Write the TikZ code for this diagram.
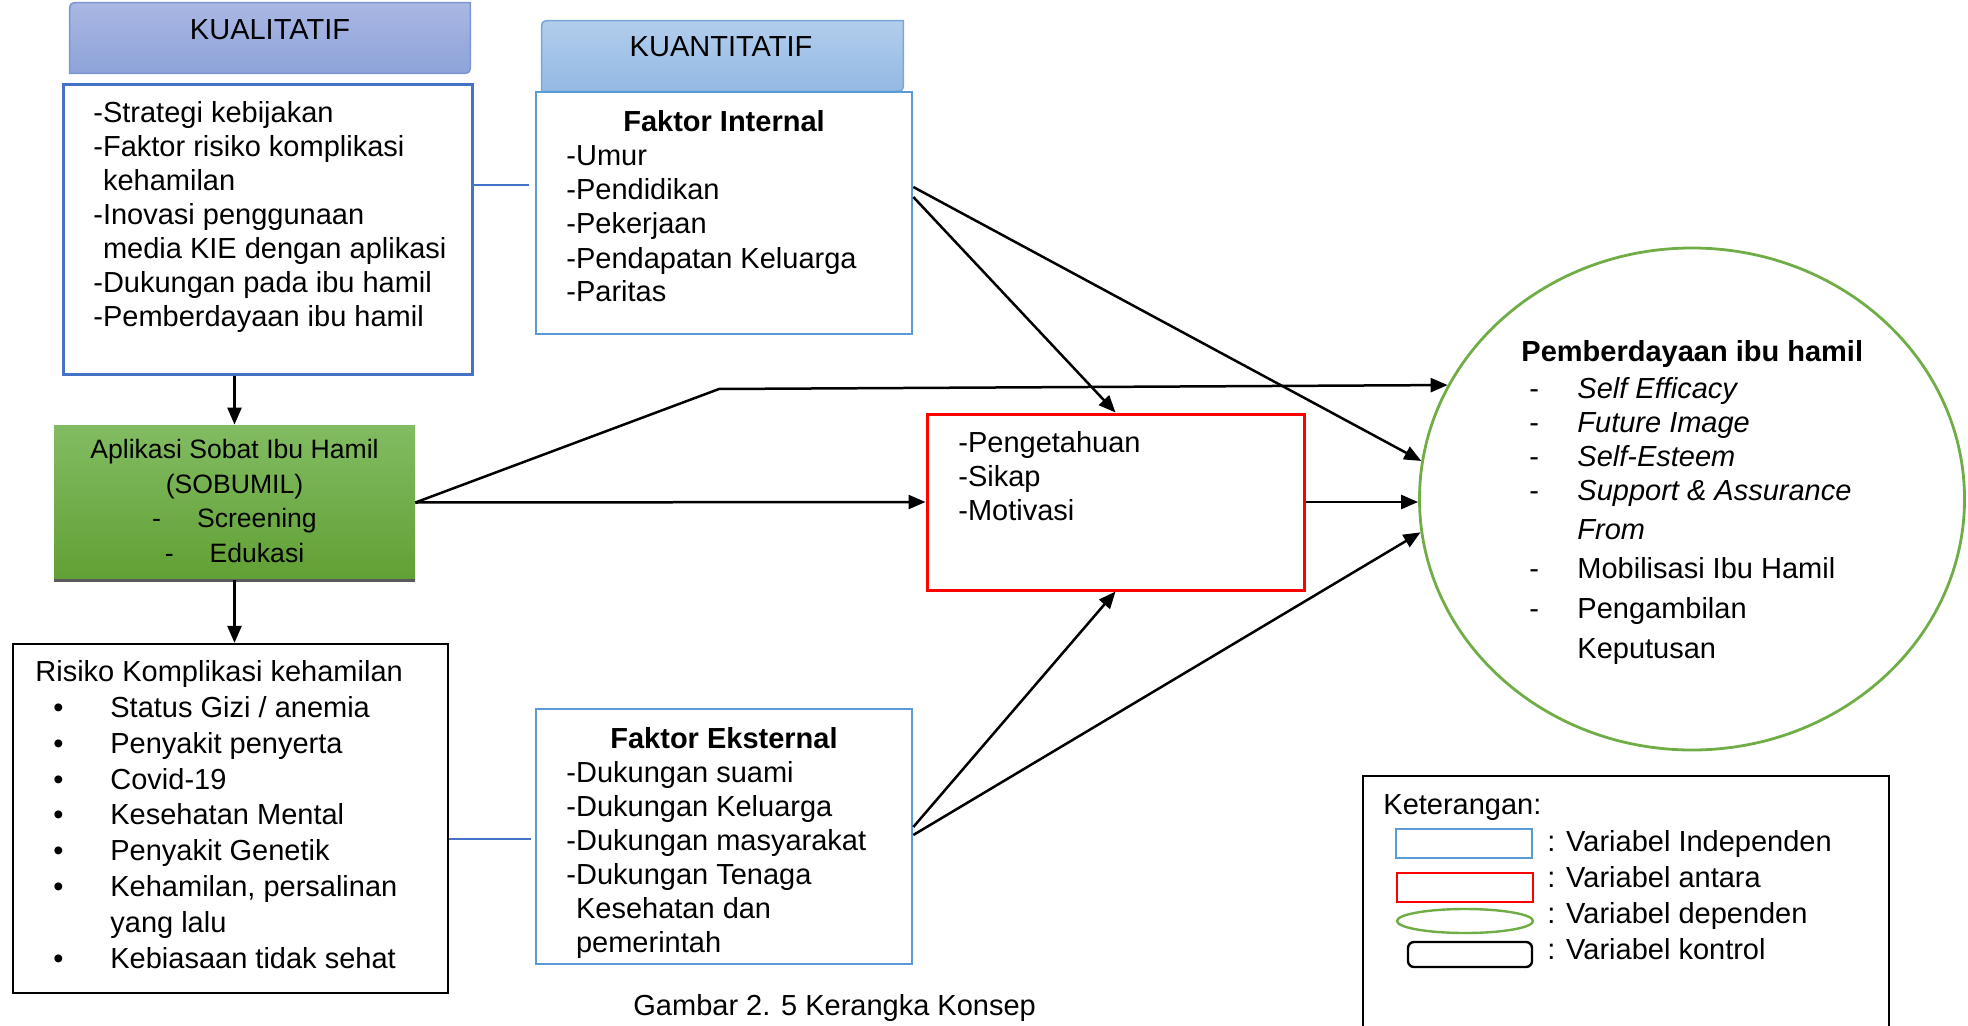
\documentclass[tikz,border=0pt]{standalone}
\usepackage{fontspec}
\setmainfont{Liberation Sans}
\usetikzlibrary{arrows.meta,shapes.geometric}

\begin{document}
\begin{tikzpicture}[x=0.5pt,y=-0.5pt,
	box/.style={draw,line width=1.5pt,fill=white,inner sep=0pt},
	txt/.style={inner sep=0pt,align=left,font=\fontsize{14.5}{17}\selectfont},
	head/.style={inner sep=0pt,align=left,font=\fontsize{14.5}{17}\selectfont\bfseries},
	link/.style={line width=1.25pt,-{Triangle[length=8.5pt,width=7pt]}},
	tie/.style={line width=0.6pt,draw=cblue}]
	\definecolor{ckualtop}{RGB}{170,183,227}
	\definecolor{ckualbot}{RGB}{141,163,218}
	\definecolor{ckualedge}{RGB}{125,150,210}
	\definecolor{ckuantop}{RGB}{178,205,236}
	\definecolor{ckuanbot}{RGB}{147,185,228}
	\definecolor{ckuanedge}{RGB}{120,168,218}
	\definecolor{cblue}{RGB}{68,114,196}
	\definecolor{clight}{RGB}{91,155,213}
	\definecolor{cgreentop}{RGB}{130,188,98}
	\definecolor{cgreenbot}{RGB}{97,160,52}
	\definecolor{cshadow}{RGB}{90,90,90}
	\definecolor{cgreen}{RGB}{112,173,71}
	\clip (0,0) rectangle (1968,1026);
	%
	% tabs
	\node[inner sep=0pt,minimum width=200pt,minimum height=35pt] (kualtab) at (270,38) {};
	\draw[line width=0.8pt,draw=ckualedge,top color=ckualtop,bottom color=ckualbot] (kualtab.south west) -- ([yshift=-6pt]kualtab.north west) .. controls (kualtab.north west) .. ([xshift=6pt]kualtab.north west) -- (kualtab.north east) -- ([yshift=6pt]kualtab.south east) .. controls (kualtab.south east) .. ([xshift=-6pt]kualtab.south east) -- cycle;
	\node[txt,anchor=base] (kualtabtxt) at (270,40) {KUALITATIF};
	\node[inner sep=0pt,minimum width=180.5pt,minimum height=35pt] (kuantab) at (722.5,56) {};
	\draw[line width=0.8pt,draw=ckuanedge,top color=ckuantop,bottom color=ckuanbot] (kuantab.south west) -- ([yshift=-6pt]kuantab.north west) .. controls (kuantab.north west) .. ([xshift=6pt]kuantab.north west) -- (kuantab.north east) -- ([yshift=6pt]kuantab.south east) .. controls (kuantab.south east) .. ([xshift=-6pt]kuantab.south east) -- cycle;
	\node[txt,anchor=base] (kuantabtxt) at (721,57) {KUANTITATIF};
	%
	% boxes
	\node[box,draw=cblue,minimum width=204.5pt,minimum height=144.5pt] (kual) at (267.5,229.5) {};
	\node[box,draw=clight,line width=1.3pt,minimum width=188pt,minimum height=121pt] (internal) at (724,213) {};
	\node[inner sep=0pt,top color=cgreentop,bottom color=cgreenbot,minimum width=180.5pt,minimum height=77.5pt] (sobumil) at (234.5,502.5) {};
	\draw[line width=1.5pt,cshadow] (sobumil.south west) -- (sobumil.south east);
	\node[box,draw=black,line width=1.1pt,minimum width=217.5pt,minimum height=174.5pt] (risiko) at (230.5,818.5) {};
	\node[box,draw=clight,line width=1.3pt,minimum width=188pt,minimum height=127.5pt] (eksternal) at (724,836.5) {};
	\node[box,draw=red,minimum width=188.5pt,minimum height=88pt] (antara) at (1115.5,502) {};
	\node[ellipse,draw=cgreen,line width=1.4pt,inner sep=0pt,minimum width=272.5pt,minimum height=251pt] (dependen) at (1692,499) {};
	\node[draw,line width=0.7pt,inner sep=0pt,minimum width=263pt,minimum height=132pt] (legenda) at (1626,908) {};
	%
	% texts (base = last line)
	\node[txt,anchor=base west] (kualtxt) at (93,327) {-Strategi kebijakan\\-Faktor risiko komplikasi\\\phantom{-}kehamilan\\-Inovasi penggunaan\\\phantom{-}media KIE dengan aplikasi\\-Dukungan pada ibu hamil\\-Pemberdayaan ibu hamil};
	\node[head,anchor=base] (internalhead) at (724,132) {Faktor Internal};
	\node[txt,anchor=base west] (internaltxt) at (566,302) {-Umur\\-Pendidikan\\-Pekerjaan\\-Pendapatan Keluarga\\-Paritas};
	\node[txt,align=center,anchor=base,font=\fontsize{13.3}{17.2}\selectfont] (sobumiltxt) at (234.5,562) {Aplikasi Sobat Ibu Hamil\\(SOBUMIL)\\-\hspace{18pt}Screening\\-\hspace{18pt}Edukasi};
	\node[txt,anchor=base west,font=\fontsize{14.5}{17.9}\selectfont] (risikotxt) at (35,968) {Risiko Komplikasi kehamilan\\\hspace*{9pt}\makebox[28.5pt][l]{\textbullet}Status Gizi / anemia\\\hspace*{9pt}\makebox[28.5pt][l]{\textbullet}Penyakit penyerta\\\hspace*{9pt}\makebox[28.5pt][l]{\textbullet}Covid-19\\\hspace*{9pt}\makebox[28.5pt][l]{\textbullet}Kesehatan Mental\\\hspace*{9pt}\makebox[28.5pt][l]{\textbullet}Penyakit Genetik\\\hspace*{9pt}\makebox[28.5pt][l]{\textbullet}Kehamilan, persalinan\\\hspace*{37.5pt}yang lalu\\\hspace*{9pt}\makebox[28.5pt][l]{\textbullet}Kebiasaan tidak sehat};
	\node[head,anchor=base] (eksternalhead) at (724,748) {Faktor Eksternal};
	\node[txt,anchor=base west] (eksternaltxt) at (566,952) {-Dukungan suami\\-Dukungan Keluarga\\-Dukungan masyarakat\\-Dukungan Tenaga\\\phantom{-}Kesehatan dan\\\phantom{-}pemerintah};
	\node[txt,anchor=base west] (antaratxt) at (958,520) {-Pengetahuan\\-Sikap\\-Motivasi};
	\node[head,anchor=base west] (dependenhead) at (1521,361) {Pemberdayaan ibu hamil};
	\node[txt,anchor=base west] (dependentxt) at (1529,658) {\makebox[24pt][l]{-}\textit{Self Efficacy}\\\makebox[24pt][l]{-}\textit{Future Image}\\\makebox[24pt][l]{-}\textit{Self-Esteem}\\\makebox[24pt][l]{-}\textit{Support \& Assurance}\\[2.5pt]\hspace*{24pt}\textit{From}\\[2.5pt]\makebox[24pt][l]{-}Mobilisasi Ibu Hamil\\[3pt]\makebox[24pt][l]{-}Pengambilan\\[3pt]\hspace*{24pt}Keputusan};
	%
	% legend
	\node[txt,anchor=base west] (ketlabel) at (1383,814) {Keterangan:};
	\node[draw=clight,line width=1.2pt,inner sep=0pt,minimum width=68pt,minimum height=14.5pt] (keyind) at (1464,843.5) {};
	\node[draw=red,line width=1.4pt,inner sep=0pt,minimum width=68pt,minimum height=14.5pt] (keyant) at (1465,887.5) {};
	\node[ellipse,draw=cgreen,line width=1.2pt,inner sep=0pt,minimum width=68pt,minimum height=12pt] (keydep) at (1465,921) {};
	\node[draw,rounded corners=3pt,line width=1.2pt,inner sep=0pt,minimum width=62pt,minimum height=12.5pt] (keykon) at (1470,954.5) {};
	\node[txt,anchor=base west] (kettxt) at (1547,959) {: Variabel Independen\\[1pt]: Variabel antara\\[1pt]: Variabel dependen\\[1pt]: Variabel kontrol};
	\node[txt,anchor=base west] (caption) at (633,1015) {Gambar 2. 5 Kerangka Konsep};
	%
	% connectors
	\coordinate (bend) at (719,389);
	\coordinate (tiekual) at ([yshift=22.25pt]kual.east);
	\coordinate (tierisiko) at ([yshift=-10.25pt]risiko.east);
	\draw[link] (sobumil.east) -- (bend) -- (dependen.155.8);
	\draw[link] (sobumil.east) -- (antara.west);
	\draw[link] ([yshift=13pt]internal.east) -- (dependen.172.6);
	\draw[link] ([yshift=8pt]internal.east) -- (antara.north);
	\draw[link] (antara.east) -- (antara.east -| dependen.west);
	\draw[link] ([yshift=4.75pt]eksternal.east) -- (antara.south);
	\draw[link] ([yshift=0.75pt]eksternal.east) -- (dependen.187.2);
	\draw[link] (kual.south -| sobumil.north) -- (sobumil.north);
	\draw[link] (sobumil.south) -- (sobumil.south |- risiko.north);
	\draw[tie,shorten >=3pt] (tiekual) -- (tiekual -| internal.west);
	\draw[tie,shorten >=2pt] (tierisiko) -- (tierisiko -| eksternal.west);
	%
\end{tikzpicture}
\end{document}
